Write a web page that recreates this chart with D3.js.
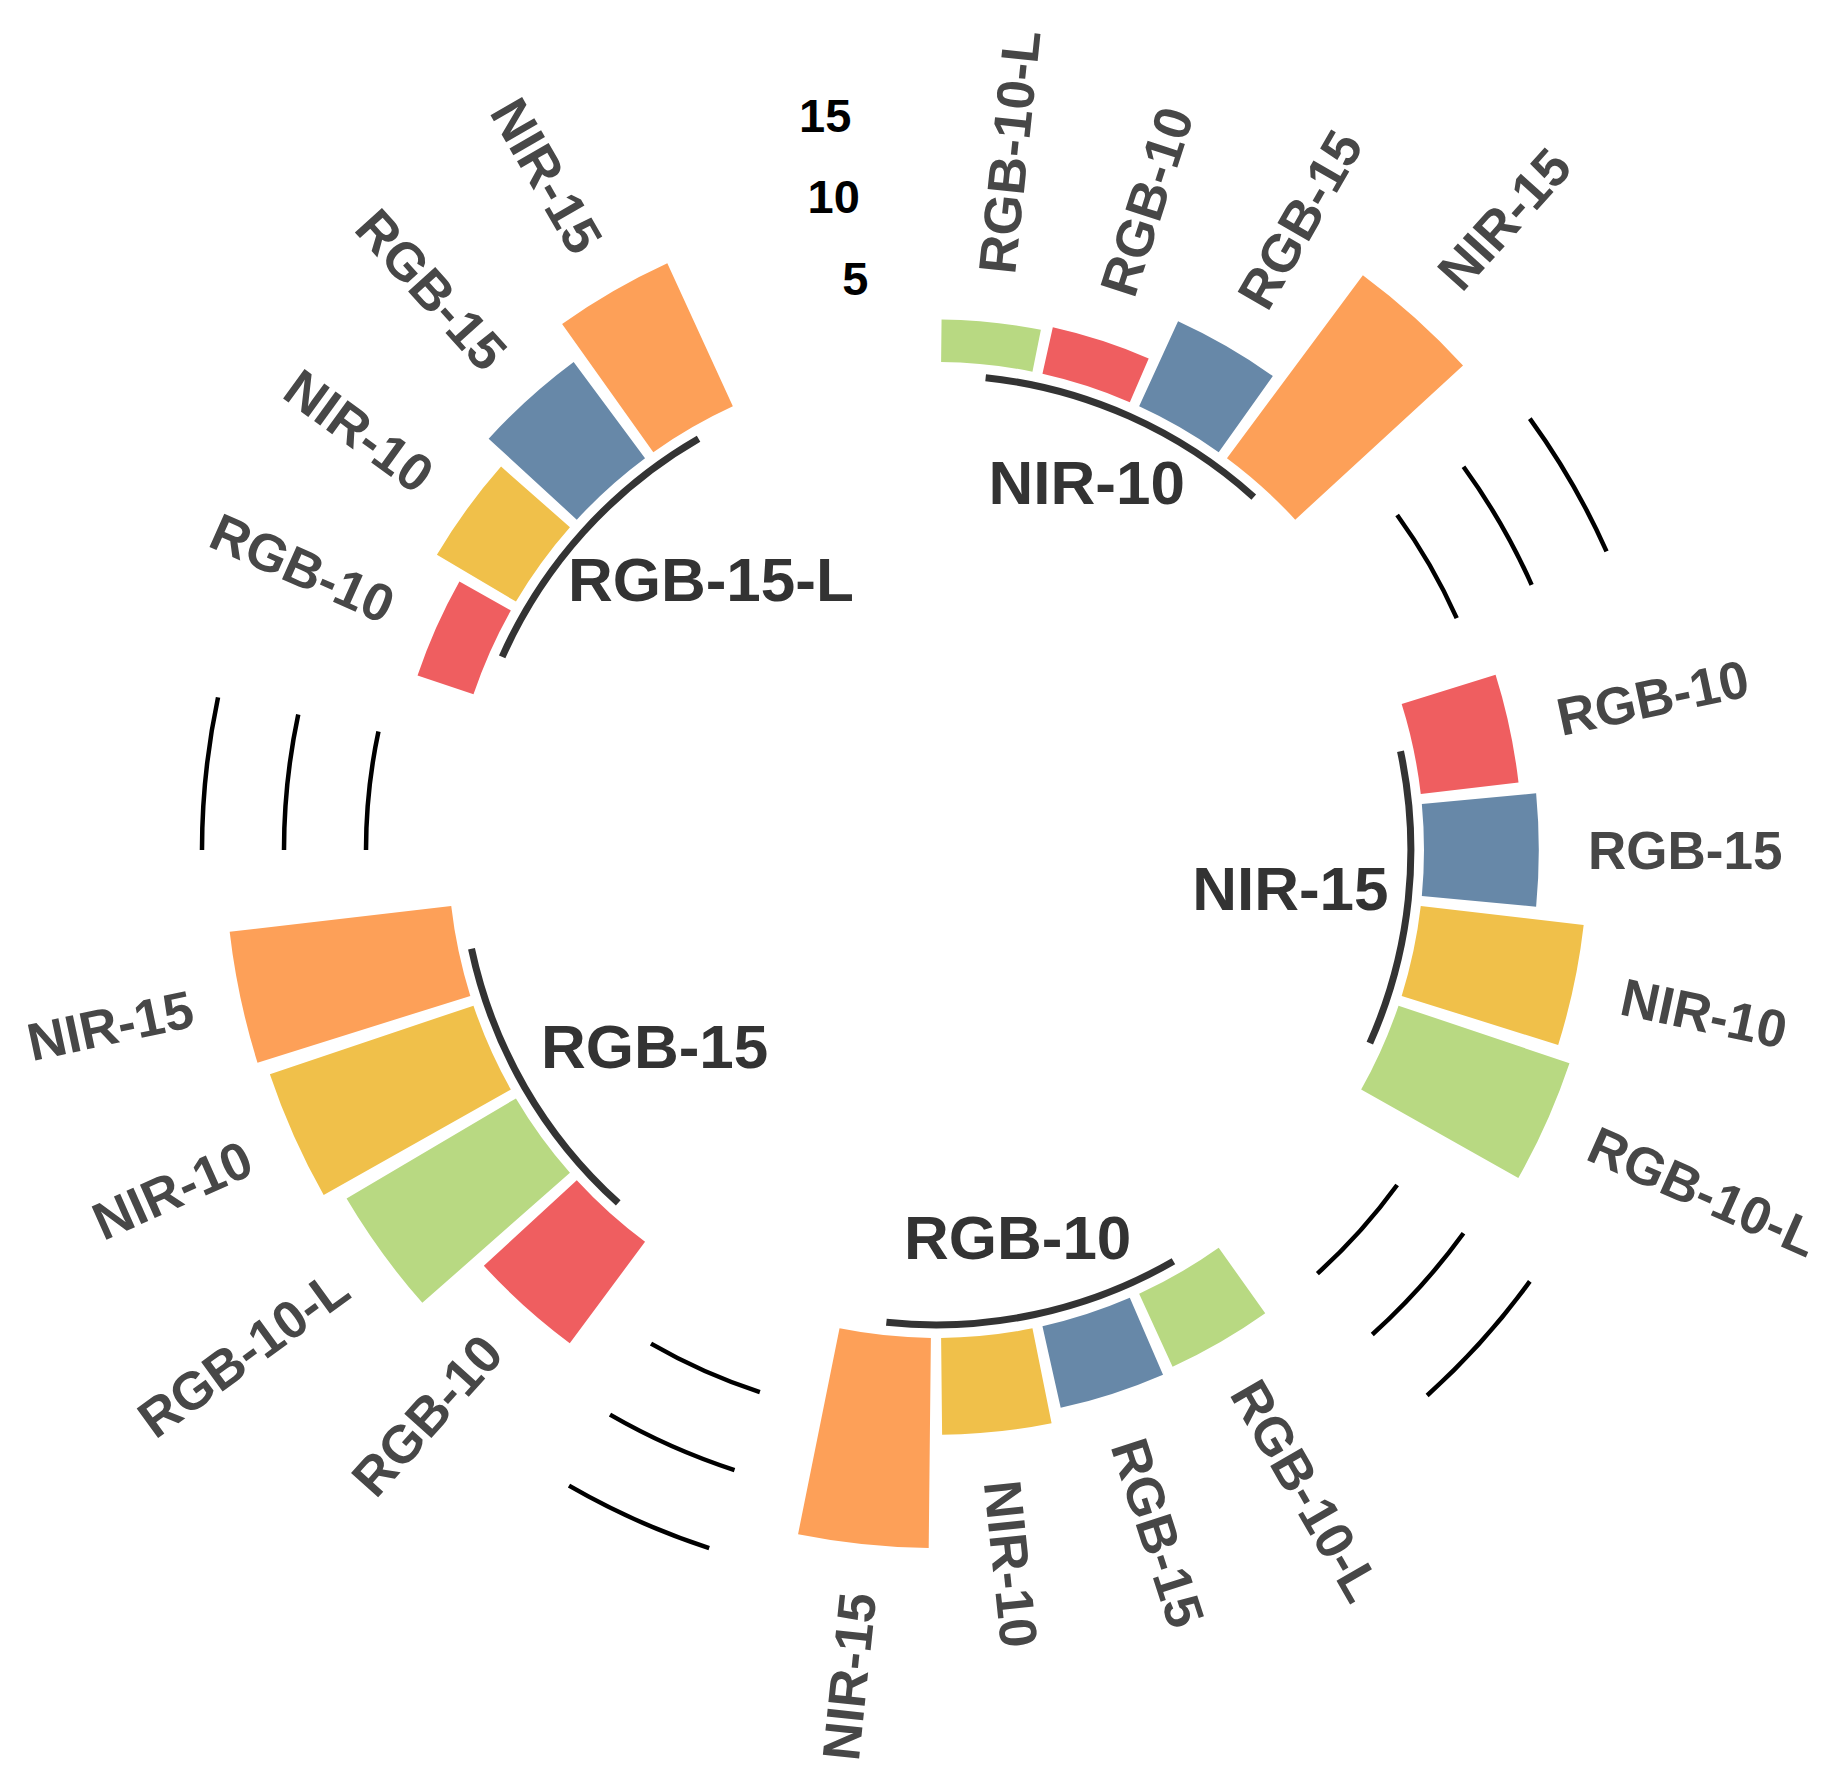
<!DOCTYPE html>
<html lang="en">
<head>
    <meta charset="UTF-8">
    <title>Circular grouped barplot</title>
    <style>
        body { margin: 0; background: #ffffff; }
        svg text {
            font-family: "Liberation Sans", Arial, sans-serif;
            font-weight: bold;
        }
        .bar-label { fill: #474747; font-size: 53px; }
        .group-label { fill: #333333; font-size: 62px; }
        .tick-label { fill: #000000; font-size: 47px; }
        .grid { stroke: #000000; stroke-width: 4.5; fill: none; }
        .base { stroke: #333333; stroke-width: 7; fill: none; }
    </style>
</head>
<body>
    <svg id="chart" width="1833" height="1788"></svg>

    <script src="https://d3js.org/d3.v7.min.js"></script>
    <script>
        // Data: one list of bars per group (sorted ascending)
        const groups = ["NIR-10", "NIR-15", "RGB-10", "RGB-15", "RGB-15-L"];

        const nir10Bars = ["RGB-10-L", "RGB-10", "RGB-15", "NIR-15"];
        const nir10Values = [2.6, 2.9, 5.7, 13.9];

        const nir15Bars = ["RGB-10", "RGB-15", "NIR-10", "RGB-10-L"];
        const nir15Values = [6.0, 7.0, 10.0, 11.0];

        const rgb10Bars = ["RGB-10-L", "RGB-15", "NIR-10", "NIR-15"];
        const rgb10Values = [4.9, 5.1, 5.9, 12.8];

        const rgb15Bars = ["RGB-10", "RGB-10-L", "NIR-10", "NIR-15"];
        const rgb15Values = [7.7, 12.0, 13.1, 13.6];

        const rgb15LBars = ["RGB-10", "NIR-10", "RGB-15", "NIR-15"];
        const rgb15LValues = [3.6, 5.6, 7.3, 9.6];

        const groupBars = [nir10Bars, nir15Bars, rgb10Bars, rgb15Bars, rgb15LBars];
        const groupValues = [nir10Values, nir15Values, rgb10Values, rgb15Values, rgb15LValues];

        const conditions = ["RGB-10-L", "RGB-10", "RGB-15", "NIR-15", "NIR-10"];
        const conditionColors = ["#b8d982", "#ef5e60", "#6788a8", "#fda058", "#f0c04a"];

        const gridTicks = [5, 10, 15];

        // Layout
        const width = 1833, height = 1788;
        const cx = 936, cy = 850;
        const emptyPerGroup = 2;

        const svg = d3.select("#chart");
        svg.append("rect").attr("width", width).attr("height", height).attr("fill", "#ffffff");
        const g = svg.append("g").attr("transform", `translate(${cx},${cy})`);

        // one slot per bar, followed by empty slots at the end of every group
        const rows = [];
        groups.forEach((grp, gi) => {
            groupBars[gi].forEach((b, bi) => {
                rows.push({ group: grp, bar: b, value: groupValues[gi][bi] });
            });
            for (let k = 0; k < emptyPerGroup; k++) rows.push({ group: grp, bar: null, value: null });
        });
        rows.forEach((d, i) => d.id = i + 1);
        const nSlots = rows.length;
        const bars = rows.filter(d => d.bar !== null);

        const angle = d3.scaleLinear().domain([0.5, nSlots + 0.5]).range([0, 2 * Math.PI]);
        const radius = d3.scaleLinear().domain([0, 15]).range([488, 734]);
        const color = d3.scaleOrdinal().domain(conditions).range(conditionColors);

        const point = (a, r) => [r * Math.sin(a), -r * Math.cos(a)];
        const arcPath = (a0, a1, r) => {
            const p = d3.path();
            p.arc(0, 0, r, a0 - Math.PI / 2, a1 - Math.PI / 2);
            return p.toString();
        };

        // group extents
        const base = groups.map(grp => {
            const ids = bars.filter(d => d.group === grp).map(d => d.id);
            return { group: grp, start: d3.min(ids), end: d3.max(ids) };
        });

        // grid arcs in the gaps (not in the last gap, where the tick labels sit)
        const gridData = [];
        for (let i = 1; i < base.length; i++) {
            gridData.push({ from: base[i - 1].end + 1, to: base[i].start - 1 });
        }
        gridData.forEach(gd => {
            gridTicks.forEach(t => {
                g.append("path")
                    .attr("class", "grid")
                    .attr("d", arcPath(angle(gd.from), angle(gd.to), radius(t)));
            });
        });

        // tick labels at the last (empty) slot
        g.selectAll(".tick-label")
            .data(gridTicks)
            .join("text")
            .attr("class", "tick-label")
            .attr("x", t => point(angle(nSlots), radius(t))[0])
            .attr("y", t => point(angle(nSlots), radius(t))[1])
            .attr("dx", -8)
            .attr("dy", "0.25em")
            .attr("text-anchor", "end")
            .text(t => t);

        // bars
        const barArc = d3.arc()
            .innerRadius(radius(0))
            .outerRadius(d => radius(d.value))
            .startAngle(d => angle(d.id - 0.45))
            .endAngle(d => angle(d.id + 0.45));

        g.selectAll(".bar")
            .data(bars)
            .join("path")
            .attr("class", "bar")
            .attr("d", barArc)
            .attr("fill", d => color(d.bar));

        // bar labels, rotated like the radial text of a polar plot
        g.selectAll(".bar-label")
            .data(bars)
            .join("text")
            .attr("class", "bar-label")
            .attr("dy", "0.35em")
            .attr("text-anchor", d => angle(d.id) < Math.PI ? "start" : "end")
            .attr("transform", d => {
                const a = angle(d.id);
                const [x, y] = point(a, radius(d.value + 3));
                const deg = a * 180 / Math.PI;
                const rot = deg < 180 ? deg - 90 : deg + 90;
                return `translate(${x},${y}) rotate(${rot})`;
            })
            .text(d => d.bar);

        // base line under each group
        g.selectAll(".base")
            .data(base)
            .join("path")
            .attr("class", "base")
            .attr("d", d => arcPath(angle(d.start), angle(d.end), radius(-0.8)));

        // group titles inside the ring
        g.selectAll(".group-label")
            .data(base)
            .join("text")
            .attr("class", "group-label")
            .attr("dy", "0.3em")
            .attr("text-anchor", "middle")
            .text(d => d.group)
            .each(function (d) {
                const a = angle((d.start + d.end) / 2);
                const [x, y] = point(a, radius(-5.4));
                const w = this.getComputedTextLength();
                const hjust = 0.45 + 0.27 * Math.sin(a);
                d3.select(this).attr("x", x - (hjust - 0.5) * w).attr("y", y);
            });
    </script>
</body>
</html>
